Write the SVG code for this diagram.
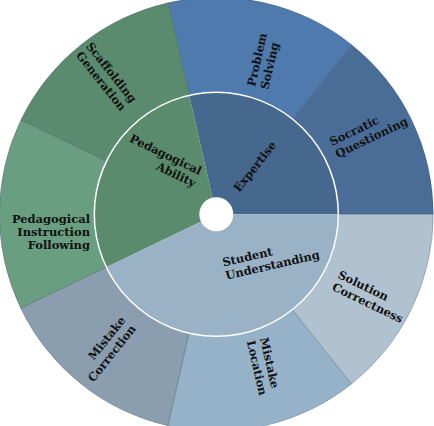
<svg xmlns="http://www.w3.org/2000/svg" width="434" height="426" viewBox="0 0 434 426">
<style>
.lbl{font-family:"DejaVu Serif","Liberation Serif",serif;font-weight:bold;font-size:11.5px;fill:#111}
.out{stroke:#2e3e50;stroke-opacity:0.35;stroke-width:0.8}
</style>
<rect width="434" height="426" fill="#ffffff"/>
<g id="ring-inner">
<g id="expertise"><path d="M216.3,214.3 L338.3,214.3 A122,122 0 0 0 189.15,95.36 Z" fill="#46678e"/></g>
<g id="pedagogical-ability"><path d="M216.3,214.3 L189.15,95.36 A122,122 0 0 0 106.38,267.23 Z" fill="#5b8b6d"/></g>
<g id="student-understanding"><path d="M216.3,214.3 L106.38,267.23 A122,122 0 0 0 338.3,214.3 Z" fill="#9ab2c6"/></g>
</g>
<g id="ring-outer">
<g id="socratic-questioning"><path class="out" d="M433.3,214.3 A217,217 0 0 0 351.60,44.64 L292.37,118.92 A122,122 0 0 1 338.3,214.3 Z" fill="#4a6d97"/></g>
<g id="problem-solving"><path class="out" d="M351.60,44.64 A217,217 0 0 0 168.01,2.74 L189.15,95.36 A122,122 0 0 1 292.37,118.92 Z" fill="#4e7aad"/></g>
<g id="scaffolding-generation"><path class="out" d="M168.01,2.74 A217,217 0 0 0 20.79,120.15 L106.38,161.37 A122,122 0 0 1 189.15,95.36 Z" fill="#5b8b6f"/></g>
<g id="pedagogical-instruction-following"><path class="out" d="M20.79,120.15 A217,217 0 0 0 20.79,308.45 L106.38,267.23 A122,122 0 0 1 106.38,161.37 Z" fill="#6a9e80"/></g>
<g id="mistake-correction"><path class="out" d="M20.79,308.45 A217,217 0 0 0 168.01,425.86 L189.15,333.24 A122,122 0 0 1 106.38,267.23 Z" fill="#8a9eb0"/></g>
<g id="mistake-location"><path class="out" d="M168.01,425.86 A217,217 0 0 0 351.60,383.96 L292.37,309.68 A122,122 0 0 1 189.15,333.24 Z" fill="#96b2c8"/></g>
<g id="solution-correctness"><path class="out" d="M351.60,383.96 A217,217 0 0 0 433.3,214.3 L338.3,214.3 A122,122 0 0 1 292.37,309.68 Z" fill="#b0c2d0"/></g>
</g>
<circle cx="216.3" cy="214.3" r="122" fill="none" stroke="#ffffff" stroke-width="1.5"/>
<circle cx="216.3" cy="214.3" r="17" fill="#ffffff"/>
<g id="labels">
<text class="lbl" transform="translate(258,169) rotate(-51.43)" text-anchor="middle">Expertise</text>
<text class="lbl" transform="translate(193.3,187.3) rotate(25.71)" text-anchor="end"><tspan x="0" y="-13.5">Pedagogical</tspan><tspan x="0" y="0">Ability</tspan></text>
<text class="lbl" transform="translate(223.5,266.5) rotate(-12.86)" text-anchor="start"><tspan x="0" y="0">Student</tspan><tspan x="0" y="13.5">Understanding</tspan></text>
<text class="lbl" transform="translate(332,146) rotate(-25.71)" text-anchor="start"><tspan x="0" y="0">Socratic</tspan><tspan x="0" y="13.5">Questioning</tspan></text>
<text class="lbl" transform="translate(255,87) rotate(-77.14)" text-anchor="start"><tspan x="0" y="0">Problem</tspan><tspan x="0" y="13.5">Solving</tspan></text>
<text class="lbl" transform="translate(131,103.5) rotate(51.43)" text-anchor="end"><tspan x="0" y="0">Scaffolding</tspan><tspan x="0" y="13.5">Generation</tspan></text>
<text class="lbl" transform="translate(90,223.3)" text-anchor="end"><tspan x="0" y="0">Pedagogical</tspan><tspan x="0" y="13">Instruction</tspan><tspan x="0" y="26">Following</tspan></text>
<text class="lbl" transform="translate(126,320.5) rotate(-51.43)" text-anchor="end"><tspan x="0" y="0">Mistake</tspan><tspan x="0" y="13.5">Correction</tspan></text>
<text class="lbl" transform="translate(260,338.5) rotate(77.14)" text-anchor="start"><tspan x="0" y="0">Mistake</tspan><tspan x="0" y="13.5">Location</tspan></text>
<text class="lbl" transform="translate(337,277.5) rotate(25.71)" text-anchor="start"><tspan x="0" y="0">Solution</tspan><tspan x="0" y="13.5">Correctness</tspan></text>
</g>
</svg>
